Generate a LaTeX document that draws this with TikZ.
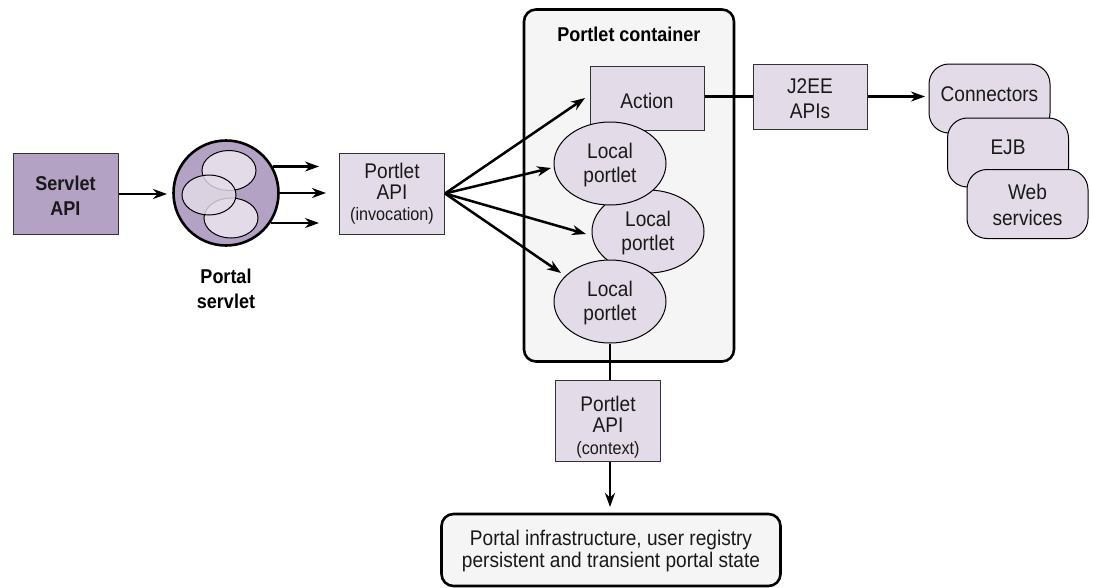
\documentclass[tikz,border=0pt]{standalone}
\usepackage{fontspec}
\setmainfont{Liberation Sans}[FakeStretch=0.90]
\usetikzlibrary{arrows.meta,shapes.geometric}
\definecolor{darkp}{HTML}{B3A2C4}
\definecolor{lightp}{HTML}{E3DCE8}
\definecolor{pale}{HTML}{F5F5F5}
\tikzset{
  x=1pt,y=-1pt,
  txt/.style={font=\fontsize{21.2}{21.5}\selectfont,align=center,inner sep=0pt,text=black!90},
  bf/.style={font=\fontsize{20}{24.7}\selectfont\bfseries,align=center,inner sep=0pt},
  lightbox/.style={txt,draw=black!80,line width=1pt,fill=lightp,rectangle},
  lightell/.style={txt,font=\fontsize{21.2}{24}\selectfont,draw=black,line width=1pt,fill=lightp,ellipse,minimum width=112pt,minimum height=83pt},
  smallell/.style={draw=black,line width=1pt,fill=lightp,ellipse,minimum width=54pt,minimum height=40pt,inner sep=0pt},
  softbox/.style={txt,draw=black,line width=1pt,fill=lightp,rectangle,rounded corners=20pt,minimum width=121pt,minimum height=69pt},
  bigbox/.style={draw=black,line width=2.6pt,fill=pale,rectangle,rounded corners=12pt},
  conn/.style={line width=2.5pt,draw=black},
  arr/.style={conn,-{Stealth[length=14pt,width=10pt,inset=4.5pt]}},
}
\newcommand{\smalltxt}[1]{{\fontsize{18}{19}\selectfont #1}}
% moves the text inside its node without changing the node's size
\newcommand{\tshift}[2]{\raisebox{#1}[\height][\depth]{\begin{tabular}{@{}c@{}}#2\end{tabular}}}
\begin{document}
\begin{tikzpicture}
\useasboundingbox (0,0) rectangle (1093,587);
% container and outer boxes
\node[bigbox,minimum width=210pt,minimum height=352pt] (cont) at (629,185.5) {};
\node[bf,anchor=base] (conttitle) at (629,41.5) {Portlet container};
\node[lightbox,minimum width=105pt,minimum height=81pt,fill=darkp,bf] (servlet) at (65.5,193.5) {\tshift{-4.5pt}{Servlet\\API}};
\node[circle,draw=black,line width=2.6pt,fill=darkp,minimum size=105pt,inner sep=0pt] (portal) at (226,193) {};
\node[smallell] (e1) at (229,170.5) {};
\node[smallell] (e3) at (231,218) {};
\node[smallell,fill opacity=0.82] (e2) at (209,195) {};
\node[bf] (portaltxt) at (226,288.5) {Portal\\servlet};
\node[lightbox,minimum width=105pt,minimum height=81pt] (api) at (392,193.5) {Portlet\\API\\[-1pt]\smalltxt{(invocation)}};
\node[lightbox,minimum width=114pt,minimum height=64pt] (action) at (647,98) {\tshift{-6pt}{Action}};
\node[lightell] (lp2) at (648,231.5) {\tshift{-2pt}{Local\\portlet}};
\node[lightell] (lp1) at (610,163.5) {\tshift{-2pt}{Local\\portlet}};
\node[lightell] (lp3) at (610,301.5) {\tshift{-2pt}{Local\\portlet}};
\node[lightbox,font=\fontsize{21.2}{25}\selectfont,minimum width=114pt,minimum height=65pt] (j2ee) at (810,96.5) {\tshift{-4.5pt}{J2EE\\APIs}};
\node[softbox] (conn) at (989.5,98.5) {\tshift{1.5pt}{Connectors}};
\node[softbox] (ejb) at (1008,152.5) {\tshift{2pt}{EJB}};
\node[softbox,font=\fontsize{21.2}{26}\selectfont] (web) at (1027.5,204) {\tshift{-3pt}{Web\\services}};
\node[lightbox,minimum width=105pt,minimum height=81pt] (ctx) at (608,420.5) {\tshift{-8pt}{Portlet\\API\\[0pt]\smalltxt{(context)}}};
\node[bigbox,txt,minimum width=339pt,minimum height=72pt,font=\fontsize{21.2}{21.7}\selectfont] (infra) at (611,550) {\tshift{-2.5pt}{Portal infrastructure, user registry\\persistent and transient portal state}};
% free ends
\coordinate (s1) at (167,194);
\coordinate (p1) at (319,166.5);
\coordinate (p2) at (326,193);
\coordinate (p3) at (319,223);
\coordinate (f1) at (585,98);
\coordinate (f2) at (551,168);
\coordinate (f3) at (586,234);
\coordinate (f4) at (561,273);
\coordinate (j1) at (925,96.5);
\coordinate (b1) at (610,507);
% connectors
\draw[arr] (servlet.east |- s1) -- (s1);
\draw[arr] (portal.30 |- p1) -- (p1);
\draw[arr] (portal.east |- p2) -- (p2);
\draw[arr] (portal.-34 |- p3) -- (p3);
\draw[arr] (api.east) -- (f1);
\draw[arr] (api.east) -- (f2);
\draw[arr] (api.east) -- (f3);
\draw[arr] (api.east) -- (f4);
\draw[conn] (action.east |- j2ee.west) -- (j2ee.west);
\draw[arr] (j2ee.east) -- (j1);
\draw[conn] (lp3.south) -- (lp3.south |- ctx.north);
\draw[arr] (ctx.south -| b1) -- (b1);
\end{tikzpicture}
\end{document}
